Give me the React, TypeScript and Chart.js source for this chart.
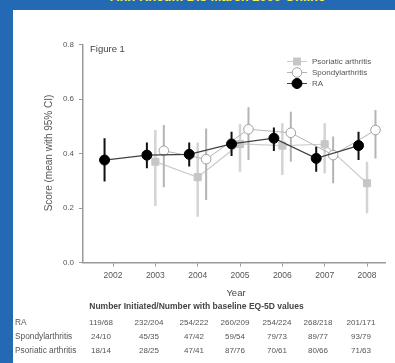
import React, { useEffect, useRef } from 'react';
import { Chart, registerables } from 'chart.js';
Chart.register(...registerables);

const years = [2002, 2003, 2004, 2005, 2006, 2007, 2008];
const raMean = [0.376, 0.394, 0.397, 0.435, 0.456, 0.382, 0.429];
const raLow = [0.297, 0.346, 0.352, 0.391, 0.409, 0.333, 0.376];
const raHigh = [0.456, 0.44, 0.44, 0.48, 0.495, 0.425, 0.48];
const spaMean = [null, 0.41, 0.379, 0.489, 0.476, 0.394, 0.486];
const spaLow = [null, 0.276, 0.229, 0.376, 0.37, 0.291, 0.382];
const spaHigh = [null, 0.505, 0.492, 0.57, 0.553, 0.462, 0.56];
const psaMean = [null, 0.37, 0.313, 0.435, 0.429, 0.434, 0.291];
const psaLow = [null, 0.207, 0.168, 0.333, 0.321, 0.327, 0.181];
const psaHigh = [null, 0.486, 0.44, 0.507, 0.511, 0.511, 0.37];
const yTicks = [0, 0.2, 0.4, 0.6, 0.8];
const rowLabels = ['RA', 'Spondylarthritis', 'Psoriatic arthritis'];
const raCounts = ['119/68', '232/204', '254/222', '260/209', '254/224', '268/218', '201/171'];
const spaCounts = ['24/10', '45/35', '47/42', '59/54', '79/73', '89/77', '93/79'];
const psaCounts = ['18/14', '28/25', '47/41', '87/76', '70/61', '80/66', '71/63'];
const legendLabels = ['Psoriatic arthritis', 'Spondylarthritis', 'RA'];

const FONT = "'Liberation Sans', Arial, Helvetica, sans-serif";

function pts(mean: (number | null)[], lo: (number | null)[], hi: (number | null)[], off: number) {
  const out: any[] = [];
  years.forEach((yr, i) => {
    if (mean[i] == null) return;
    out.push({ x: yr + off, y: mean[i], lo: lo[i], hi: hi[i] });
  });
  return out;
}

const errorBars = {
  id: 'errorBars',
  beforeDatasetDraw(chart: any, args: any) {
    const ds = chart.data.datasets[args.index];
    const meta = args.meta;
    const ys = chart.scales.y;
    const ctx = chart.ctx;
    ctx.save();
    ctx.strokeStyle = ds.errColor;
    ctx.lineWidth = ds.errWidth;
    ctx.beginPath();
    meta.data.forEach((el: any, i: number) => {
      const d = ds.data[i];
      ctx.moveTo(el.x, ys.getPixelForValue(d.lo));
      ctx.lineTo(el.x, ys.getPixelForValue(d.hi));
    });
    ctx.stroke();
    ctx.restore();
  },
};

const customLegend = {
  id: 'customLegend',
  afterDraw(chart: any) {
    const ctx = chart.ctx;
    const order = [2, 1, 0];
    const x0 = chart.chartArea.left + 204;
    const y0 = chart.chartArea.top + 17;
    ctx.save();
    order.forEach((di, k) => {
      const ds = chart.data.datasets[di];
      const y = y0 + k * 11;
      ctx.strokeStyle = ds.borderColor;
      ctx.lineWidth = 1;
      ctx.beginPath();
      ctx.moveTo(x0, y);
      ctx.lineTo(x0 + 20, y);
      ctx.stroke();
      const cx = x0 + 10;
      ctx.fillStyle = ds.pointBackgroundColor;
      ctx.strokeStyle = ds.pointBorderColor;
      ctx.lineWidth = 1;
      ctx.beginPath();
      if (ds.pointStyle === 'rect') {
        ctx.rect(cx - 3.5, y - 3.5, 7, 7);
      } else {
        ctx.arc(cx, y, ds.pointRadius, 0, Math.PI * 2);
      }
      ctx.fill();
      ctx.stroke();
      ctx.fillStyle = '#555';
      ctx.font = `8px ${FONT}`;
      ctx.textBaseline = 'middle';
      ctx.fillText(legendLabels[k], x0 + 25, y);
    });
    ctx.restore();
  },
};

function ChartView() {
  const ref = useRef<HTMLCanvasElement | null>(null);
  useEffect(() => {
    if (!ref.current) return;
    const chart = new Chart(ref.current, {
      type: 'line',
      data: {
        datasets: [
          {
            label: 'RA',
            data: pts(raMean, raLow, raHigh, -0.2),
            borderColor: '#404040',
            borderWidth: 1.2,
            pointStyle: 'circle',
            pointRadius: 5,
            pointBackgroundColor: '#000',
            pointBorderColor: '#000',
            pointBorderWidth: 1,
            errColor: '#111',
            errWidth: 2,
          } as any,
          {
            label: 'Spondylarthritis',
            data: pts(spaMean, spaLow, spaHigh, 0.2),
            borderColor: '#b4b4b4',
            borderWidth: 1,
            pointStyle: 'circle',
            pointRadius: 4.8,
            pointBackgroundColor: '#fff',
            pointBorderColor: '#a0a0a0',
            pointBorderWidth: 1,
            errColor: '#b4b4b4',
            errWidth: 2,
          } as any,
          {
            label: 'Psoriatic arthritis',
            data: pts(psaMean, psaLow, psaHigh, 0),
            borderColor: '#cdcdcd',
            borderWidth: 1.2,
            pointStyle: 'rect',
            pointRadius: 5,
            pointBackgroundColor: '#c6c6c6',
            pointBorderColor: '#c6c6c6',
            pointBorderWidth: 1,
            errColor: '#d4d4d4',
            errWidth: 2.5,
          } as any,
        ],
      },
      options: {
        responsive: false,
        animation: false,
        layout: { padding: { left: 0, top: 44.5, right: 10, bottom: 0 } },
        plugins: { legend: { display: false }, tooltip: { enabled: false } },
        scales: {
          x: {
            type: 'linear',
            min: 2001.291,
            max: 2008.425,
            afterBuildTicks: (s: any) => {
              s.ticks = years.map((v) => ({ value: v }));
            },
            afterFit: (s: any) => {
              s.height = 37.5;
            },
            grid: { display: true, drawOnChartArea: false, drawTicks: true, tickLength: 4, color: '#999' },
            border: { display: true, color: '#999', width: 1.5 },
            ticks: {
              padding: 4,
              color: '#555',
              font: { family: FONT, size: 8.5 },
              callback: (v: any) => String(v),
              maxRotation: 0,
            },
          },
          y: {
            min: 0,
            max: 0.8,
            afterBuildTicks: (s: any) => {
              s.ticks = yTicks.map((v) => ({ value: v }));
            },
            afterFit: (s: any) => {
              s.width = 83;
            },
            grid: { display: true, drawOnChartArea: false, drawTicks: true, tickLength: 4, color: '#999' },
            border: { display: true, color: '#999', width: 1.5 },
            ticks: {
              padding: 5,
              color: '#555',
              font: { family: FONT, size: 8 },
              callback: (v: any) => Number(v).toFixed(1),
            },
          },
        },
      },
      plugins: [errorBars, customLegend],
    });
    return () => chart.destroy();
  }, []);
  return (
    <canvas
      ref={ref}
      width={395}
      height={300}
      style={{ position: 'absolute', left: 0, top: 0, width: 395, height: 300 }}
    />
  );
}

const colCenters = [101, 149, 194, 235, 277, 318, 361];

export default function App() {
  const rows = [raCounts, spaCounts, psaCounts];
  return (
    <div
      style={{
        position: 'fixed',
        left: 0,
        top: 0,
        width: 395,
        height: 363,
        background: '#2369b4',
        overflow: 'hidden',
        fontFamily: FONT,
      }}
    >
      <div
        style={{
          position: 'absolute',
          left: 110,
          top: -10,
          whiteSpace: 'nowrap',
          color: '#f2f25a',
          fontWeight: 'bold',
          fontSize: 13,
          lineHeight: '14px',
        }}
      >
        Ann Rheum Dis March 2009 Online
      </div>
      <div style={{ position: 'absolute', left: 13, top: 10, right: 0, bottom: 0, background: '#fff' }} />
      <ChartView />
      <div
        style={{
          position: 'absolute',
          left: 90,
          top: 43,
          fontSize: 9.5,
          color: '#444',
          whiteSpace: 'nowrap',
          lineHeight: '12px',
        }}
      >
        Figure 1
      </div>
      <div
        style={{
          position: 'absolute',
          left: 49 - 100,
          top: 152.5 - 6,
          width: 200,
          height: 12,
          lineHeight: '12px',
          textAlign: 'center',
          transform: 'rotate(-90deg)',
          fontSize: 10,
          color: '#555',
          whiteSpace: 'nowrap',
        }}
      >
        Score (mean with 95% CI)
      </div>
      <div
        style={{
          position: 'absolute',
          left: 236 - 30,
          top: 287,
          width: 60,
          textAlign: 'center',
          fontSize: 9.5,
          lineHeight: '12px',
          color: '#444',
        }}
      >
        Year
      </div>
      <div
        style={{
          position: 'absolute',
          left: 0,
          width: 393,
          top: 301,
          textAlign: 'center',
          fontSize: 8.5,
          fontWeight: 'bold',
          lineHeight: '11px',
          color: '#444',
          whiteSpace: 'nowrap',
        }}
      >
        Number Initiated/Number with baseline EQ-5D values
      </div>
      {rowLabels.map((lab, r) => (
        <React.Fragment key={lab}>
          <div
            style={{
              position: 'absolute',
              left: 15,
              top: 317 + r * 14.2,
              fontSize: 8.3,
              lineHeight: '11px',
              color: '#555',
              whiteSpace: 'nowrap',
            }}
          >
            {lab}
          </div>
          {rows[r].map((v, c) => (
            <div
              key={c}
              style={{
                position: 'absolute',
                left: colCenters[c] - 25,
                width: 50,
                textAlign: 'center',
                top: 317 + r * 14.2,
                fontSize: 8,
                lineHeight: '11px',
                color: '#555',
                whiteSpace: 'nowrap',
              }}
            >
              {v}
            </div>
          ))}
        </React.Fragment>
      ))}
    </div>
  );
}
